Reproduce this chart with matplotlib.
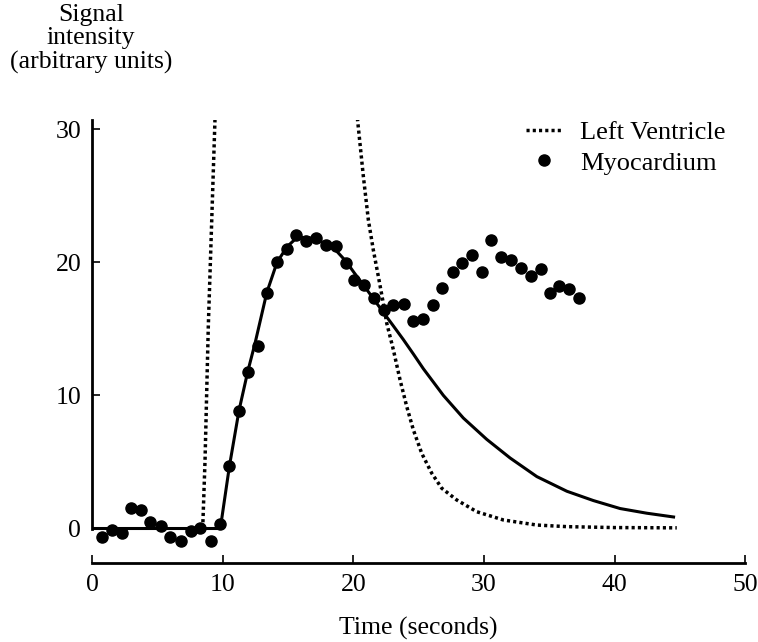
import matplotlib.pyplot as plt
import numpy as np

plt.rcParams['font.family'] = ['Liberation Serif', 'DejaVu Serif']

# Myocardium samples (time in s, signal in arbitrary units)
myo_time = [0.71, 1.48, 2.25, 2.93, 3.70, 4.41, 5.23, 5.95, 6.79, 7.53, 8.25, 9.07,
            9.78, 10.49, 11.26, 11.90, 12.67, 13.38, 14.15, 14.93, 15.62, 16.37,
            17.13, 17.88, 18.67, 19.41, 20.07, 20.84, 21.58, 22.32, 23.06, 23.88,
            24.59, 25.36, 26.08, 26.77, 27.61, 28.34, 29.09, 29.85, 30.54, 31.33,
            32.10, 32.87, 33.61, 34.38, 35.04, 35.78, 36.54, 37.31]
myo_signal = [-0.62, -0.11, -0.36, 1.52, 1.39, 0.51, 0.21, -0.62, -0.94, -0.19, 0.06,
              -0.94, 0.34, 4.70, 8.83, 11.79, 13.74, 17.73, 20.02, 21.02, 22.08, 21.63,
              21.83, 21.32, 21.20, 19.94, 18.68, 18.31, 17.35, 16.43, 16.80, 16.86,
              15.58, 15.76, 16.83, 18.08, 19.29, 19.96, 20.53, 19.26, 21.69, 20.39,
              20.19, 19.56, 19.00, 19.50, 17.73, 18.23, 17.98, 17.35]

# Fitted first-pass curve for the myocardium
fit_time = [0.0, 9.8, 10.5, 11.23, 11.9, 12.46, 13.36, 14.15, 14.93, 15.62, 16.37,
            17.13, 17.88, 18.67, 19.41, 20.07, 20.84, 21.58, 22.32, 23.0, 23.82,
            24.6, 25.36, 26.89, 28.42, 30.21, 32.0, 34.05, 36.35, 38.38, 40.43,
            42.47, 44.64]
fit_signal = [0.0, 0.0, 4.7, 8.86, 11.79, 13.92, 17.73, 20.02, 21.19, 21.82, 21.89,
              21.74, 21.39, 20.89, 20.1, 19.2, 18.2, 17.2, 16.2, 15.3, 14.2, 13.1,
              12.0, 10.0, 8.3, 6.7, 5.3, 3.9, 2.8, 2.1, 1.5, 1.15, 0.85]

# Left ventricle blood pool (peak is off scale, hence the gap)
lv_time = [8.45, 8.63, 8.88, 9.39, np.nan, 20.30, 20.76, 21.14, 21.52, 21.91, 22.24,
           22.55, 23.06, 23.57, 24.08, 24.59, 25.23, 26.00, 26.77, 27.92, 29.45,
           31.49, 34.05, 36.34, 40.0, 44.77]
lv_signal = [0.0, 5.15, 15.2, 30.7, np.nan, 30.84, 26.45, 23.20, 20.94, 18.93, 17.18,
             15.43, 13.42, 11.17, 9.17, 7.41, 5.65, 4.15, 3.02, 2.14, 1.26, 0.64,
             0.26, 0.14, 0.07, 0.05]

fig = plt.figure(figsize=(7.58, 6.42), dpi=100)
ax = fig.add_axes([0.1219, 0.1231, 0.8610, 0.6900])

ax.plot(lv_time, lv_signal, color='black', lw=2.5, linestyle=(0, (0.9, 0.9)),
        label='Left Ventricle')
ax.plot(fit_time, fit_signal, color='black', lw=2.2, solid_capstyle='butt')
ax.plot(myo_time, myo_signal, 'o', color='black', ms=8, clip_on=False,
        label='Myocardium')

ax.set_xlim(0, 50)
ax.set_ylim(-2.59, 30.7)
ax.set_xticks([0, 10, 20, 30, 40, 50])
ax.set_yticks([0, 10, 20, 30])

ax.spines['top'].set_visible(False)
ax.spines['right'].set_visible(False)
ax.spines['left'].set_bounds(0, 30.7)
ax.spines['left'].set_linewidth(2.0)
ax.spines['bottom'].set_linewidth(2.0)
ax.tick_params(direction='in', length=6, width=1.2, labelsize=18.5, pad=8)

ax.set_xlabel('Time (seconds)', fontsize=18.5, labelpad=15)
fig.text(91 / 758, 1 - 39 / 642, 'Signal\nintensity\n(arbitrary units)',
         ha='center', va='center', fontsize=18.5, linespacing=1.07)

ax.legend(loc='upper left', bbox_to_anchor=(0.664, 0.999), frameon=False,
          fontsize=19, handlelength=1.35, handletextpad=0.7, labelspacing=0.27,
          borderaxespad=0, borderpad=0)

fig.savefig('out.png', dpi=100)
